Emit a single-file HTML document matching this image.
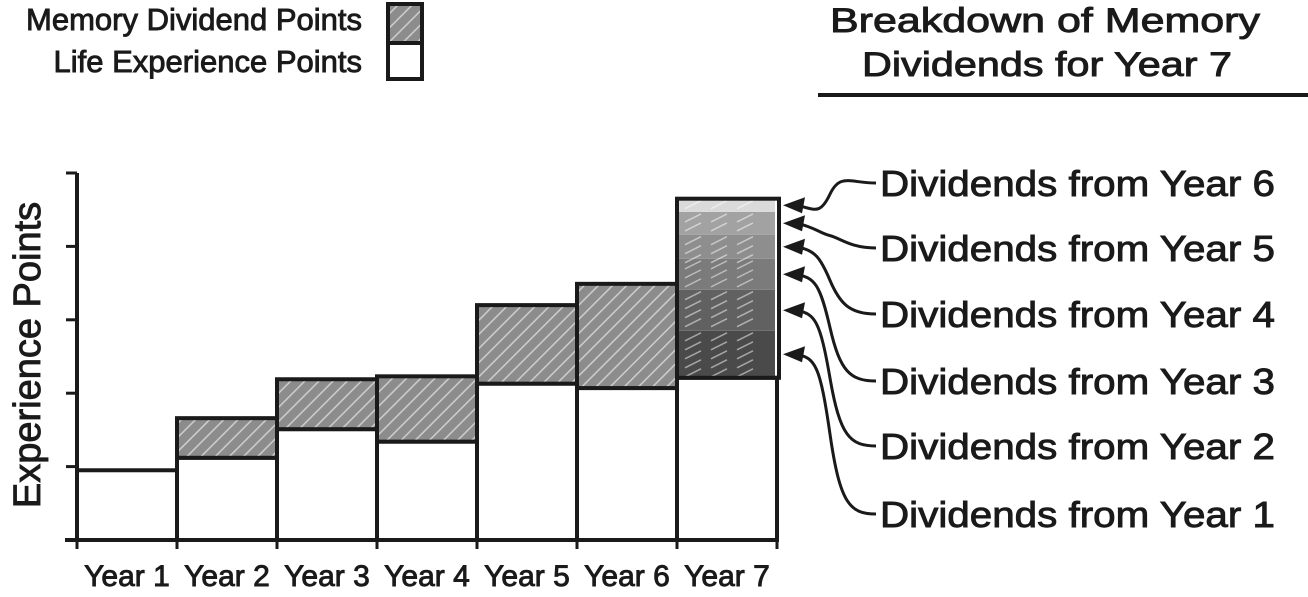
<!DOCTYPE html>
<html><head><meta charset="utf-8">
<style>
html,body{margin:0;padding:0;background:#fff;}
svg{display:block;}
text{font-family:"Liberation Sans Narrow","Liberation Sans",sans-serif;fill:#1a1a1a;stroke:#1a1a1a;stroke-width:0.9;}
</style></head>
<body>
<svg id="chart" width="1308" height="597" viewBox="0 0 1308 597" xmlns="http://www.w3.org/2000/svg">
<defs>
<pattern id="hatch" width="10" height="10" patternUnits="userSpaceOnUse" patternTransform="rotate(-45)">
<rect width="10" height="10" fill="#8c8c8c"/>
<line x1="0" y1="5" x2="10" y2="5" stroke="#d4d4d4" stroke-width="1.4"/>
</pattern>
</defs>
<g>
<text x="362" y="30" font-size="31" text-anchor="end">Memory Dividend Points</text>
<text x="362" y="72" font-size="31" text-anchor="end">Life Experience Points</text>
<rect x="388" y="4" width="34" height="39" fill="url(#hatch)" stroke="#1a1a1a" stroke-width="4"/>
<rect x="388" y="43" width="34" height="36" fill="#fff" stroke="#1a1a1a" stroke-width="4"/>
</g>
<g>
<text x="830" y="32" font-size="34" textLength="430" lengthAdjust="spacingAndGlyphs">Breakdown of Memory</text>
<text x="862" y="76" font-size="34" textLength="370" lengthAdjust="spacingAndGlyphs">Dividends for Year 7</text>
<line x1="818" y1="95" x2="1308" y2="95" stroke="#1a1a1a" stroke-width="4"/>
</g>
<text transform="translate(40,355) rotate(-90)" font-size="38" text-anchor="middle">Experience Points</text>
<g id="plot"></g>
</svg>
<script>
const categories = ["Year 1","Year 2","Year 3","Year 4","Year 5","Year 6","Year 7"];
const lifePoints = [0.95,1.12,1.51,1.34,2.13,2.07,2.21];
const dividendPoints = [0,0.54,0.68,0.89,1.07,1.42,0];
const year7Breakdown = [0.64,0.56,0.42,0.33,0.31,0.18];
const breakdownLabels = ["Dividends from Year 1","Dividends from Year 2","Dividends from Year 3","Dividends from Year 4","Dividends from Year 5","Dividends from Year 6"];
const yTicks = [0,1,2,3,4,5];

const NS="http://www.w3.org/2000/svg";
const plot=document.getElementById('plot');
const x0=77, bw=100, y0=540, unit=73.4;
const xs=i=>x0+i*bw;
const ys=v=>y0-v*unit;
function mk(tag,attrs,parent){const e=document.createElementNS(NS,tag);for(const k in attrs)e.setAttribute(k,attrs[k]);(parent||plot).appendChild(e);return e;}

categories.forEach((c,i)=>{
  const life=mk('rect',{x:xs(i),y:ys(lifePoints[i]),width:bw,height:lifePoints[i]*unit,fill:'#fff',stroke:'#1a1a1a','stroke-width':4});
  
  
  if(dividendPoints[i]>0){
    const d=mk('rect',{x:xs(i),y:ys(lifePoints[i]+dividendPoints[i]),width:bw,height:dividendPoints[i]*unit,fill:'url(#hatch)',stroke:'#1a1a1a','stroke-width':4});
    
    
  }
  const t=mk('text',{x:xs(i)+bw/2,y:586,'font-size':30,'text-anchor':'middle'});
  t.textContent=c;
  
  
});
const shades=['#4a4a4a','#616161','#7b7b7b','#8e8e8e','#a2a2a2','#dadada'];
let acc=lifePoints[6];
const idx=6;
const tipYs=[];
year7Breakdown.forEach((v,k)=>{
  const s=mk('rect',{x:xs(idx)+2,y:ys(acc+v),width:bw-4,height:v*unit,fill:shades[k]});
  
  
  for(let h=ys(acc+v)+6;h<ys(acc);h+=9){
    for(const off of [8,34,60]){
      mk('line',{x1:xs(idx)+off,y1:h+4,x2:xs(idx)+off+16,y2:h-4,stroke:'rgba(255,255,255,0.5)','stroke-width':1.5});
    }
  }
  tipYs.push(ys(acc+v*0.5));
  acc+=v;
});
const b7=mk('rect',{x:xs(idx),y:ys(acc),width:bw+2,height:(acc-lifePoints[6])*unit,fill:'none',stroke:'#1a1a1a','stroke-width':4});


const ax=mk('line',{x1:x0,y1:ys(5),x2:x0,y2:y0,stroke:'#1a1a1a','stroke-width':4});


const bx=mk('line',{x1:65,y1:y0,x2:xs(7)+2,y2:y0,stroke:'#1a1a1a','stroke-width':4});


yTicks.forEach(v=>{
  const t=mk('line',{x1:66,y1:ys(v),x2:x0,y2:ys(v),stroke:'#1a1a1a','stroke-width':3});
  
  
});
for(let i=0;i<=7;i++){
  const t=mk('line',{x1:xs(i),y1:y0,x2:xs(i),y2:y0+9,stroke:'#1a1a1a','stroke-width':3});
  
  
}
const labelY=[183,248,314,381,446,514];
breakdownLabels.forEach((lab,k)=>{
  const j=5-k;
  const ly=labelY[j];
  const t=mk('text',{x:880,y:ly+13,'font-size':36,textLength:395,lengthAdjust:'spacingAndGlyphs'});
  t.textContent=breakdownLabels[k];
  
  
  const ty=tipYs[k];
  const tx=xs(7)+6;
  const p=mk('path',{d:`M876 ${ly} C850 ${ly} 840 ${ly-10} 830 ${(ly+ty)/2} S815 ${ty+4} ${tx+14} ${ty}`,fill:'none',stroke:'#1a1a1a','stroke-width':3});
  
  
  const h=mk('polygon',{points:`${tx},${ty} ${tx+22},${ty-8} ${tx+19},${ty+8}`,fill:'#1a1a1a'});
  
  
});
</script>
</body></html>
